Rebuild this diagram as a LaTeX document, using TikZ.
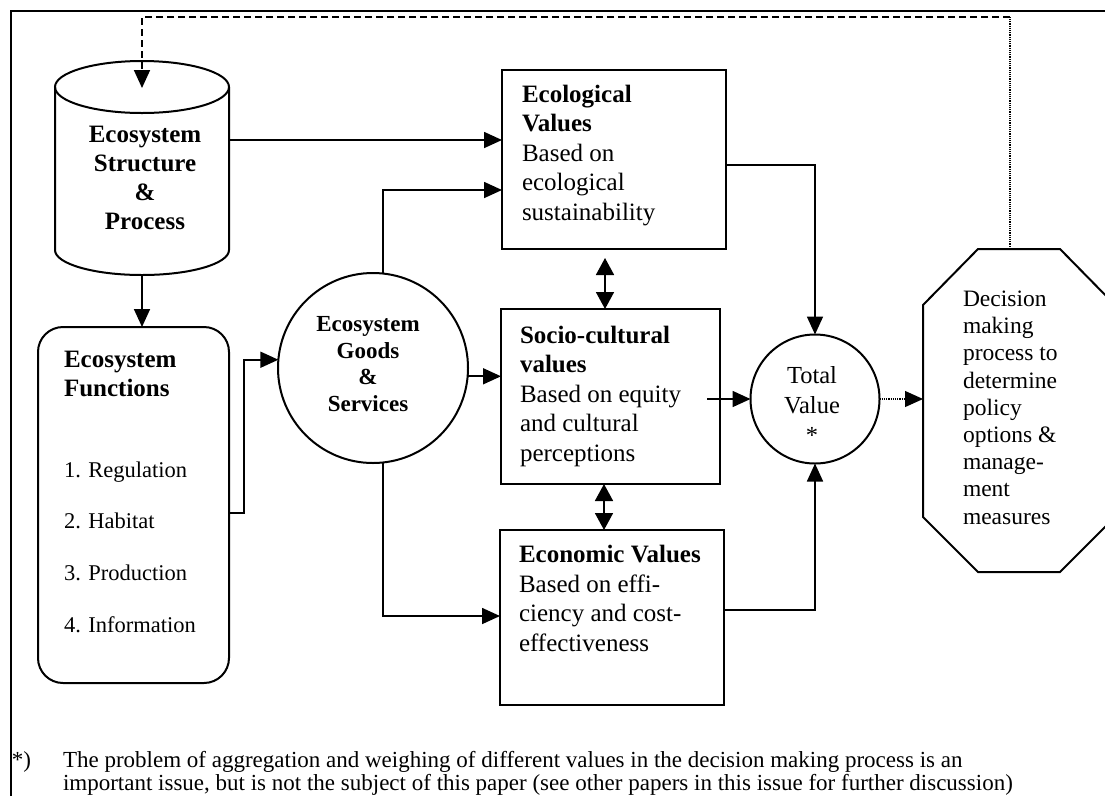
\documentclass[tikz,border=0pt]{standalone}
\usepackage{fontspec}
\setmainfont{Liberation Serif}
\usetikzlibrary{arrows.meta,calc}
\begin{document}
\begin{tikzpicture}[x=1pt,y=-1pt,
  every node/.style={inner sep=0pt, outer sep=0pt},
  box/.style={draw, line width=2pt, rectangle},
  ghost/.style={rectangle},
  ring/.style={draw, circle, line width=2pt},
  shapeline/.style={line width=2pt},
  arr/.style={line width=1.7pt, -{Triangle[length=18pt,width=16pt]}},
  darr/.style={line width=1.7pt, {Triangle[length=17pt,width=18pt]}-{Triangle[length=17pt,width=18pt]}},
  fbdash/.style={line width=1.8pt, dash pattern=on 7pt off 4pt},
  fbdot/.style={line width=1.2pt, dash pattern=on 1.2pt off 1pt},
  bigtxt/.style={font=\fontsize{25}{29.5}\selectfont, align=left},
  boldtxt/.style={font=\bfseries\fontsize{25}{29}\selectfont, align=center},
  listtxt/.style={font=\fontsize{22.5}{27}\selectfont},
  goodstxt/.style={font=\bfseries\fontsize{23}{26.7}\selectfont, align=center},
  totaltxt/.style={font=\fontsize{24.5}{30}\selectfont, align=center},
  dectxt/.style={font=\fontsize{23.5}{27.2}\selectfont, align=left},
  foottxt/.style={font=\fontsize{23}{23}\selectfont, align=left}
]
\useasboundingbox (0,0) rectangle (1105,796);
\fill[white] (0,0) rectangle (1105,796);

% frame (top and left edges)
\draw[line width=2.2pt] (11,796) -- (11,11) -- (1105,11);

% helper coordinates
\coordinate (ytop) at (0,17);
\coordinate (fbx) at (1010,0);
\coordinate (cyltop) at (142,88);
\coordinate (y140) at (0,140);
\coordinate (y165) at (0,165);
\coordinate (y190) at (0,190);
\coordinate (y513) at (0,513);
\coordinate (y610) at (0,610);
\coordinate (y616) at (0,616);
\coordinate (x244) at (244,0);
\coordinate (x605) at (605,0);
\coordinate (x604) at (604,0);
\coordinate (sostart) at (707,399);

% nodes
\node[ghost, minimum width=174pt, minimum height=214pt] (cyl) at (142,168) {};
\node[box, rounded corners=25pt, minimum width=191pt, minimum height=356pt] (func) at (133.5,505) {};
\node[ring, minimum size=190pt] (goods) at (373,368) {};
\node[box, minimum width=224pt, minimum height=179pt] (ecol) at (614,159.5) {};
\node[box, minimum width=219pt, minimum height=175pt] (socio) at (610.5,396.5) {};
\node[box, minimum width=224pt, minimum height=175pt] (econ) at (612,617.5) {};
\node[ring, minimum size=129pt] (total) at (815,399) {};
\node[ghost, minimum width=192pt, minimum height=323pt] (dec) at (1019,410.5) {};

% cylinder outline
\draw[shapeline] (142,87) ellipse [x radius=87pt, y radius=26pt];
\draw[shapeline] (55,87) -- (55,250) arc [start angle=180, end angle=360, x radius=87pt, y radius=25pt] -- (229,87);

% octagon outline
\draw[shapeline] (978,249) -- (1060,249) -- (1115,305) -- (1115,517) -- (1060,572)
  -- (978,572) -- (923,517) -- (923,305) -- cycle;

% texts
\node[boldtxt, anchor=north] (cyltxt) at (145,126.5) {Ecosystem\\Structure\\\&\\Process};
\node[boldtxt, anchor=north west, align=left] (functitle) at (64,351.5) {Ecosystem\\Functions};
\node[listtxt, anchor=base west] (f1) at (64,477) {1. Regulation};
\node[listtxt, anchor=base west] (f2) at (64,528) {2. Habitat};
\node[listtxt, anchor=base west] (f3) at (64,580) {3. Production};
\node[listtxt, anchor=base west] (f4) at (64,632) {4. Information};
\node[goodstxt, anchor=north] (goodstext) at (368,316.5) {Ecosystem\\Goods\\\&\\Services};
\node[bigtxt, anchor=north west] (ecoltext) at (522,85) {\textbf{Ecological}\\\textbf{Values}\\Based on\\ecological\\sustainability};
\node[bigtxt, anchor=north west] (sociotext) at (520,326) {\textbf{Socio-cultural}\\\textbf{values}\\Based on equity\\and cultural\\perceptions};
\node[bigtxt, anchor=north west] (econtext) at (519,545.5) {\textbf{Economic Values}\\Based on effi-\\ciency and cost-\\effectiveness};
\node[totaltxt, anchor=north] (totaltext) at (812,366.5) {Total\\Value\\*};
\node[dectxt, anchor=north west] (dectext) at (963,291) {Decision\\making\\process to\\determine\\policy\\options \&\\manage-\\ment\\measures};
\node[foottxt, anchor=base west] (star) at (12,767) {*)};
\node[foottxt, anchor=base west] (foot1) at (63,767) {The problem of aggregation and weighing of different values in the decision making process is an};
\node[foottxt, anchor=base west] (foot2) at (63,790) {important issue, but is not the subject of this paper (see other papers in this issue for further discussion)};

% connectors
\draw[fbdot] (dec.north -| fbx) -- (fbx |- ytop);
\draw[fbdash, -{Triangle[length=18pt,width=16pt]}] (fbx |- ytop) -- (cyl.north |- ytop) -- (cyltop);
\draw[arr] (cyl.east |- y140) -- (ecol.west |- y140);
\draw[arr] (cyl.south) -- (cyl.south |- func.north);
\draw[arr] (func.east |- y513) -| (x244 |- goods.175) -- (goods.175);
\draw[arr] (goods.84) |- (ecol.west |- y190);
\draw[arr] (goods.276) |- (econ.west |- y616);
\draw[arr] (goods.-5) -- (socio.west |- goods.-5);
\draw[darr, shorten <=9pt] (ecol.south -| x605) -- (socio.north -| x605);
\draw[darr] (socio.south -| x604) -- (econ.north -| x604);
\draw[arr] (sostart) -- (total.west);
\draw[arr] (ecol.east |- y165) -| (total.north);
\draw[arr] (econ.east |- y610) -| (total.south);
\draw[fbdot, -{Triangle[length=18pt,width=16pt]}] (total.east) -- (total.east -| dec.west);
\end{tikzpicture}
\end{document}
